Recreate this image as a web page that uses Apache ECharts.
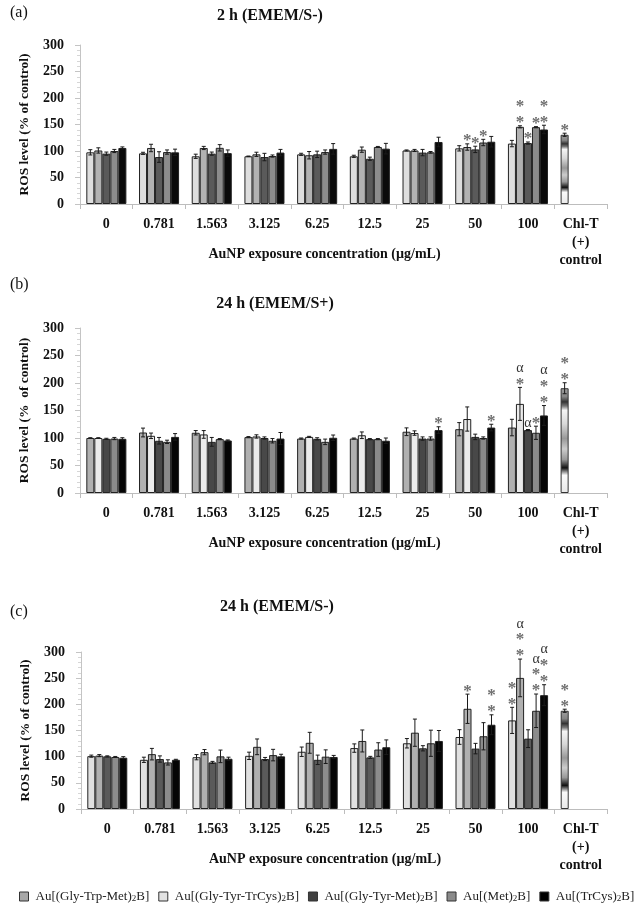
<!DOCTYPE html>
<html>
<head>
<meta charset="utf-8">
<script src="https://cdn.jsdelivr.net/npm/echarts@6/dist/echarts.min.js"></script>
<style>
html,body{margin:0;padding:0;background:#fff;}
#chart{width:640px;height:915px;}
</style>
</head>
<body>
<div id="chart"></div>
<script>
// ---------- DATA ----------
const categories = ['0', '0.781', '1.563', '3.125', '6.25', '12.5', '25', '50', '100', 'Chl-T\n(+)\ncontrol'];
const seriesNames = ['Au[(Gly-Trp-Met)₂B]', 'Au[(Gly-Tyr-TrCys)₂B]', 'Au[(Gly-Tyr-Met)₂B]', 'Au[(Met)₂B]', 'Au[(TrCys)₂B]'];
const yTicks = [0, 50, 100, 150, 200, 250, 300];

const panelLabels = ['(a)', '(b)', '(c)'];
const panelTitles = ['2 h (EMEM/S-)', '24 h (EMEM/S+)', '24 h (EMEM/S-)'];
const yNames = ['ROS level (% of control)', 'ROS level (%  of control)', 'ROS level (% of control)'];
const xName = 'AuNP exposure concentration (µg/mL)';

// Panel (a) 2 h EMEM/S-
const aS1 = [97.5, 95.6, 90, 90, 93.7, 90, 101, 105, 114];
const aS2 = [101, 105.7, 105.7, 93.7, 92, 102.5, 101, 107.5, 145.6];
const aS3 = [95, 88.6, 95, 88.6, 93.7, 85.4, 97, 103, 115];
const aS4 = [100, 98, 106, 90.5, 98, 107.6, 97.5, 116, 145];
const aS5 = [105.7, 97.5, 96, 97, 104, 104.4, 117, 117.5, 140.6];
const aE1 = [5, 2, 4, 0.5, 2, 2, 1, 5, 6];
const aE2 = [5, 7, 3, 4, 7, 5, 2, 6, 2];
const aE3 = [3, 10, 3, 7, 6, 3, 6, 6, 2];
const aE4 = [3, 4, 6, 2, 4, 1, 1.5, 6, 1];
const aE5 = [2, 6, 6, 6, 10, 10, 9, 10, 8];
const aChl = 130.6, aChlErr = 3;

// Panel (b) 24 h EMEM/S+
const bS1 = [100, 110, 109.5, 101.6, 99, 99, 111.4, 116, 119];
const bS2 = [100, 104, 106.5, 102.8, 102, 105, 109, 134.5, 162];
const bS3 = [98.5, 95, 93, 100, 98.5, 98, 99, 102, 114.4];
const bS4 = [99, 93, 98, 95, 93, 98, 99, 100, 109.5];
const bS5 = [98.5, 102, 95.5, 99, 100.4, 95, 114.4, 119, 141];
const bE1 = [0.5, 8, 4, 1, 1, 1, 7, 12, 15];
const bE2 = [0.5, 5, 7, 3, 1, 6, 4, 22, 30];
const bE3 = [1, 6, 8, 2, 2, 1, 3, 5, 1];
const bE4 = [2, 3, 1, 4, 5, 1, 3, 2, 12];
const bE5 = [2, 6, 1, 11, 5, 5, 6, 6, 18];
const bChl = 190.5, bChlErr = 10;

// Panel (c) 24 h EMEM/S-
const cS1 = [101, 94, 99, 101.6, 109.4, 116.4, 125.6, 137.6, 169.3];
const cS2 = [102, 104.8, 108.6, 118.8, 126.5, 130, 145.8, 191.5, 250.5];
const cS3 = [100.6, 95.5, 89, 95.5, 94, 98.6, 116, 115.4, 134.4];
const cS4 = [99.4, 89, 100.6, 103, 100, 113.6, 125.6, 139, 187.7];
const cS5 = [98, 94, 96, 100.6, 99.4, 118, 130, 161, 217.5];
const cE1 = [2, 5, 5, 7, 9, 8, 9, 14, 25];
const cE2 = [2, 11, 5, 15, 20, 21, 26, 28, 36];
const cE3 = [1, 6, 2, 3, 9, 2, 5, 10, 17];
const cE4 = [1, 5, 12, 11, 13, 13, 25, 26, 32];
const cE5 = [2, 1, 3, 4, 3, 14, 20, 19, 20];
const cChl = 187.7, cChlErr = 3;

// significance marks: [categoryIndex, seriesIndex, text]
const aMarks = [[7, 1, '*'], [7, 2, '*'], [7, 3, '*'], [8, 1, '**'], [8, 2, '*'], [8, 3, '*'], [8, 4, '**'], [9, 0, '*']];
const bMarks = [[6, 4, '*'], [7, 4, '*'], [8, 1, 'α*'], [8, 2, 'α'], [8, 3, '*'], [8, 4, 'α**'], [9, 0, '**']];
const cMarks = [[7, 1, '*'], [7, 4, '**'], [8, 0, '**'], [8, 1, 'α**'], [8, 3, 'α**'], [8, 4, 'α**'], [9, 0, '**']];

// ---------- STYLE ----------
const FONT = '"Liberation Serif", "Times New Roman", serif';
const GAP = 0.24;
const panelColors = [
  ['#dedede', '#b2b2b2', '#5a5a5a', '#8c8c8c', '#0a0a0a'],
  ['#b0b0b0', '#ebebeb', '#484848', '#8a8a8a', '#050505'],
  ['#e0e0e0', '#b0b0b0', '#5a5a5a', '#8c8c8c', '#050505']
];
const legendColors = ['#a8a8a8', '#e2e2e2', '#404040', '#8a8a8a', '#000000'];
const grids = [
  {left: 80, width: 527, top: 45, height: 159},
  {left: 80, width: 527, top: 328, height: 165},
  {left: 81, width: 526, top: 652, height: 157}
];
const titleY = [[13, 16], [285, 304], [612, 607]];
const titleX = [270, 275, 277];

const chlGradient = {
  type: 'linear', x: 0, y: 0, x2: 0, y2: 1,
  colorStops: [
    {offset: 0, color: '#a0a0a0'}, {offset: 0.08, color: '#858585'},
    {offset: 0.13, color: '#333333'}, {offset: 0.17, color: '#777777'},
    {offset: 0.21, color: '#f5f5f5'}, {offset: 0.34, color: '#d8d8d8'},
    {offset: 0.48, color: '#999999'}, {offset: 0.58, color: '#cccccc'},
    {offset: 0.68, color: '#999999'}, {offset: 0.73, color: '#444444'},
    {offset: 0.76, color: '#111111'}, {offset: 0.79, color: '#777777'},
    {offset: 0.83, color: '#fafafa'}, {offset: 1, color: '#e8e8e8'}
  ]
};

const panels = [
  {vals: [aS1, aS2, aS3, aS4, aS5], errs: [aE1, aE2, aE3, aE4, aE5], chl: aChl, chlErr: aChlErr, marks: aMarks},
  {vals: [bS1, bS2, bS3, bS4, bS5], errs: [bE1, bE2, bE3, bE4, bE5], chl: bChl, chlErr: bChlErr, marks: bMarks},
  {vals: [cS1, cS2, cS3, cS4, cS5], errs: [cE1, cE2, cE3, cE4, cE5], chl: cChl, chlErr: cChlErr, marks: cMarks}
];

const xAxes = [], yAxes = [], series = [], graphics = [];

panels.forEach((p, pi) => {
  xAxes.push({
    type: 'category', gridIndex: pi, data: categories,
    axisLine: {lineStyle: {color: '#bdbdbd', width: 1}},
    axisTick: {show: true, alignWithLabel: false, length: 5, lineStyle: {color: '#bdbdbd'}},
    axisLabel: {interval: 0, color: '#111', fontFamily: FONT, fontWeight: 'bold', fontSize: 14, margin: 11, lineHeight: 18},
    name: xName, nameLocation: 'middle', nameGap: 43, nameMoveOverlap: false,
    nameTextStyle: {color: '#111', fontFamily: FONT, fontWeight: 'bold', fontSize: 14, padding: [0, 38, 0, 0]}
  });
  yAxes.push({
    type: 'value', gridIndex: pi, min: yTicks[0], max: yTicks[yTicks.length - 1], interval: 50,
    axisLine: {show: true, lineStyle: {color: '#c4c4c4'}},
    axisTick: {show: true, length: 5, lineStyle: {color: '#c4c4c4'}},
    minorTick: {show: true, splitNumber: 5, length: 3, lineStyle: {color: '#d6d6d6'}},
    splitLine: {show: false},
    axisLabel: {color: '#111', fontFamily: FONT, fontWeight: 'bold', fontSize: 14, margin: 16},
    name: yNames[pi], nameLocation: 'middle', nameGap: 48, nameMoveOverlap: false,
    nameTextStyle: {color: '#111', fontFamily: FONT, fontWeight: 'bold', fontSize: 13.5}
  });

  // bars
  p.vals.forEach((arr, si) => {
    const data = arr.map(v => v);
    if (si === 0) {
      data.push({value: p.chl, itemStyle: {color: chlGradient, borderColor: '#333', borderWidth: 1}});
    } else {
      data.push(null);
    }
    series.push({
      type: 'bar', name: seriesNames[si], xAxisIndex: pi, yAxisIndex: pi,
      barGap: '0%', barCategoryGap: (GAP * 100) + '%',
      itemStyle: {color: panelColors[pi][si], borderColor: '#222', borderWidth: 1},
      data: data, z: 2
    });
  });

  // error bars + marks
  const items = [];
  p.vals.forEach((arr, si) => {
    arr.forEach((v, ci) => {
      items.push({cat: ci, s: si, val: v, err: p.errs[si][ci], note: ''});
    });
  });
  items.push({cat: 9, s: 0, val: p.chl, err: p.chlErr, note: ''});
  p.marks.forEach(m => {
    const it = items.find(d => d.cat === m[0] && d.s === m[1]);
    if (it) it.note = m[2];
  });

  series.push({
    type: 'custom', name: 'errorbars' + pi, xAxisIndex: pi, yAxisIndex: pi, z: 5,
    data: items.map(d => [d.cat, d.val, d.err]),
    renderItem: function (params, api) {
      const it = items[params.dataIndex];
      const c = api.coord([it.cat, it.val]);
      const bandW = api.size([1, 0])[0];
      const groupW = bandW * (1 - GAP);
      const bw = groupW / 5;
      const x = c[0] - groupW / 2 + bw * (it.s + 0.5);
      const yTop = api.coord([it.cat, it.val + it.err])[1];
      const yBot = api.coord([it.cat, it.val - it.err])[1];
      const ls = {stroke: '#1a1a1a', lineWidth: 1};
      const children = [
        {type: 'line', shape: {x1: x, y1: yTop, x2: x, y2: yBot}, style: ls},
        {type: 'line', shape: {x1: x - 2, y1: yTop, x2: x + 2, y2: yTop}, style: ls},
        {type: 'line', shape: {x1: x - 2, y1: yBot, x2: x + 2, y2: yBot}, style: ls}
      ];
      if (it.note) {
        const glyphs = it.note.split('').reverse();
        let cy = yTop - 4;
        let first = true;
        glyphs.forEach(g => {
          const isA = g === 'α';
          if (!first) cy -= isA ? 13 : 16;
          first = false;
          children.push({
            type: 'text', x: x, y: isA ? cy - 2 : cy + 1,
            style: {
              text: g, fill: isA ? '#333' : '#6e6e6e',
              font: isA ? ('14px ' + FONT) : ('bold 17px ' + FONT),
              align: 'center', verticalAlign: 'middle'
            }
          });
        });
      }
      return {type: 'group', children: children};
    }
  });

  graphics.push({
    type: 'text', x: 10, y: titleY[pi][0],
    style: {text: panelLabels[pi], font: '16px ' + FONT, fill: '#111', align: 'left', verticalAlign: 'middle'}
  });
  graphics.push({
    type: 'text', x: titleX[pi], y: titleY[pi][1],
    style: {text: panelTitles[pi], font: 'bold 16px ' + FONT, fill: '#111', align: 'center', verticalAlign: 'middle'}
  });
});

const option = {
  backgroundColor: '#ffffff',
  animation: false,
  grid: grids,
  xAxis: xAxes,
  yAxis: yAxes,
  series: series,
  graphic: graphics,
  legend: {
    left: 14, top: 885, width: 626, icon: 'rect', itemWidth: 9, itemHeight: 9, itemGap: 9,
    data: seriesNames.map((n, i) => ({name: n, itemStyle: {color: legendColors[i], borderColor: '#333', borderWidth: 1}})),
    formatter: function (name) { return name.replace('₂', '{s|2}'); },
    textStyle: {
      color: '#222', fontFamily: FONT, fontSize: 13, padding: [0, 0, 0, 2],
      rich: {s: {fontFamily: FONT, fontSize: 9, color: '#222', verticalAlign: 'bottom', lineHeight: 14}}
    }
  }
};

const chart = echarts.init(document.getElementById('chart'), null, {renderer: 'canvas'});
chart.setOption(option);
</script>
</body>
</html>
